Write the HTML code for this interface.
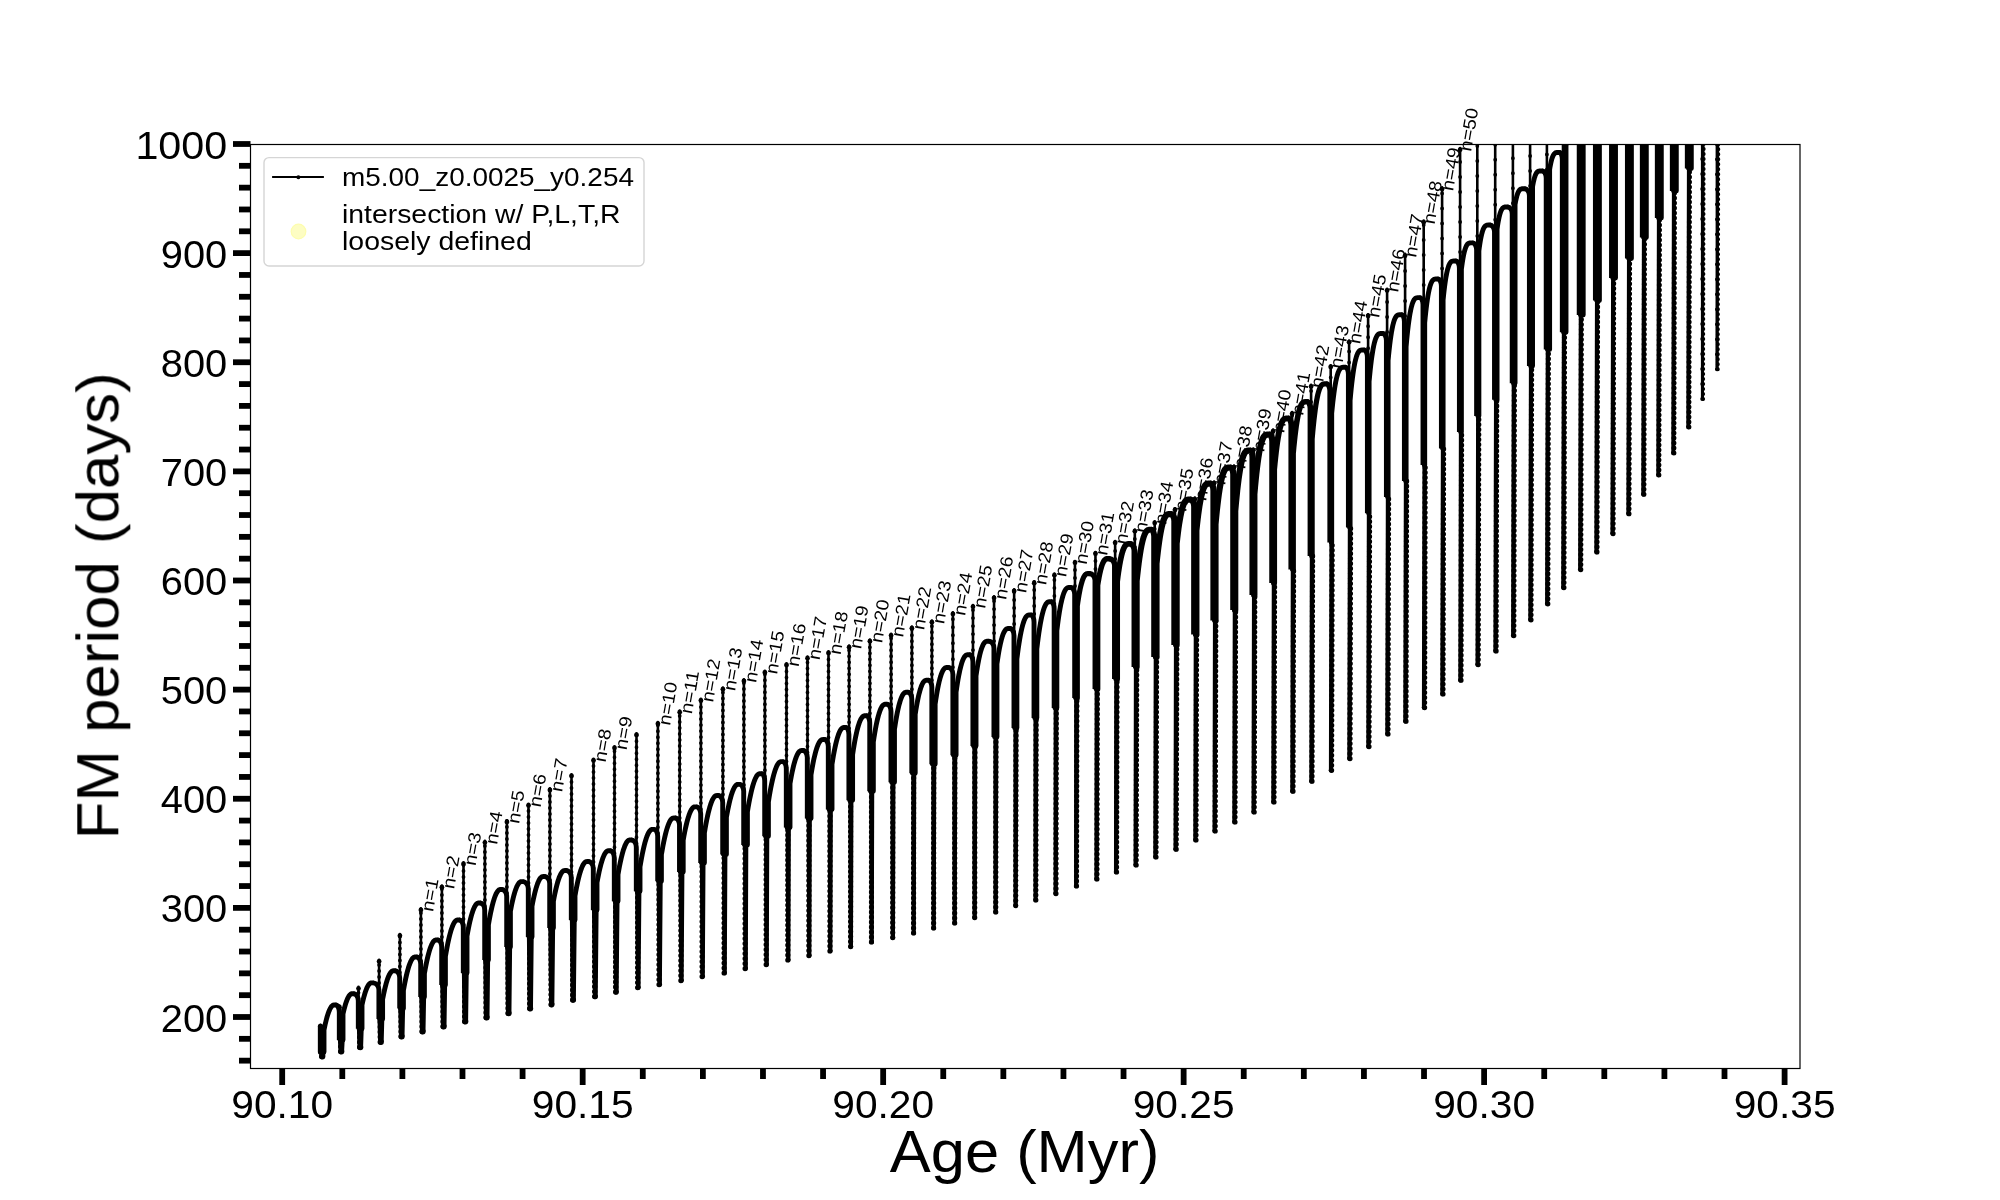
<!DOCTYPE html>
<html><head><meta charset="utf-8"><title>FM period vs Age</title>
<style>html,body{margin:0;padding:0;background:#fff;width:2000px;height:1200px;overflow:hidden}svg{display:block}.gs{filter:grayscale(1)}</style>
</head><body>
<svg width="2000" height="1200" viewBox="0 0 2000 1200">
<defs><clipPath id="c"><rect x="250.5" y="144.5" width="1549.5" height="924.0"/></clipPath></defs>
<rect width="2000" height="1200" fill="#fff"/>
<g clip-path="url(#c)" fill="none" stroke="#000" stroke-linecap="round" stroke-linejoin="round">
<path d="M320.5 1052V1024.8M339.5 1040V1005.5M358.5 1028.75V986.9M379.1 1019V959.7M399.9 1008.5V934M420.9 997V908.2M441.9 985V885.5M463.5 973V862.2M484.9 960V840.9M506.9 947V820.2M528.5 937V803.7M549.9 928V788.3M571.5 920V774.2M593.5 910V758.7M614.5 901.25V746.3M636.5 891.25V733.2M657.9 881.25V722M679.7 871.9V710.5M700.9 863.1V698.7M722.9 854.4V687.5M743.9 845V679.25M764.9 836.25V670.7M786.5 827.5V663.2M807.5 818.45V656.5M828.5 809.41V651.2M849.1 800.36V645.5M869.9 791.32V639.5M891.1 782.27V633.7M911.9 773.23V626.5M931.9 764.18V620.5M952.9 755.14V612.2M972.98 746.09V605M994.06 737.05V596.2M1014.14 728V589.3M1034.22 718V581.5M1054.4 708V573.5M1074.98 698V561M1095.46 689V552M1115.14 679V541M1134.82 667V529.5M1154.7 657V521.25M1174.98 645V508.2M1194.86 634.5V497.5M1214.14 620.5V481.5M1234.02 610V465.5M1253.3 595V448.5M1273.1 583V429.5M1292.1 569.5V412M1311.1 556V384.75M1330.7 542.5V365.25M1349.1 527.5V340.5M1368.1 513.25V314.25M1387.1 497V288.75M1405.1 481V253.9M1423.7 465V220.6M1442.1 448.5V187.4M1460.1 432V148M1477.3 416V100.5M1495.2 399.75V100.5M1512.9 383.25V100.5M1530.1 366V100.5M1546.9 349.5V100.5M1563 332.25V100.5M1579.9 315V100.5M1596.1 300.5V100.5M1612.2 278V100.5M1628.1 258.5V100.5M1643 237.5V100.5M1658 218V100.5M1673 191V100.5M1688 168.5V100.5M1702.2 398.9V100.5M1716.9 369.3V100.5" stroke-width="2.6"/>
<path d="M318.9 1052L325.7 1052L325.1 1056.6L319.5 1056.6ZM337.9 1040L344.7 1040L344.1 1051.6L338.5 1051.6ZM356.9 1028.75L363.7 1028.75L363.1 1047.2L357.5 1047.2ZM377.5 1019L384.3 1019L383.7 1042L378.1 1042ZM398.3 1008.5L405.1 1008.5L404.5 1036.6L398.9 1036.6ZM419.3 997L426.1 997L425.5 1031.6L419.9 1031.6ZM440.3 985L447.1 985L446.5 1026.6L440.9 1026.6ZM461.9 973L468.7 973L468.1 1021.6L462.5 1021.6ZM483.3 960L490.1 960L489.5 1017.6L483.9 1017.6ZM505.3 947L512.1 947L511.44 1013.2L505.96 1013.2ZM526.9 937L533.7 937L532.98 1008.6L527.62 1008.6ZM548.3 928L555.1 928L554.32 1004.6L549.07 1004.6ZM569.9 920L576.7 920L575.87 1000L570.73 1000ZM592 910L598.6 910L597.75 996.6L592.85 996.6ZM613.1 901.25L619.5 901.25L618.65 992L613.95 992ZM635.2 891.25L641.4 891.25L640.57 987.6L636.03 987.6ZM656.7 881.25L662.7 881.25L661.9 984.6L657.5 984.6ZM678.6 871.9L684.4 871.9L683.65 980.6L679.35 980.6ZM699.9 863.1L705.5 863.1L704.82 976.6L700.58 976.6ZM722 854.4L727.4 854.4L726.8 973L722.6 973ZM743.1 845L748.3 845L747.8 968.6L743.6 968.6ZM764.11 836.25L769.28 836.25L768.8 964.6L764.6 964.6ZM785.73 827.5L790.87 827.5L790.4 960L786.2 960ZM806.75 818.45L811.85 818.45L811.4 955.6L807.2 955.6ZM827.76 809.41L832.84 809.41L832.4 951L828.2 951ZM848.38 800.36L853.42 800.36L853 946.6L848.8 946.6ZM869.21 791.32L874.23 791.32L873.8 942L869.6 942ZM890.44 782.27L895.43 782.27L894.99 937.6L890.79 937.6ZM911.28 773.23L916.24 773.23L915.79 933L911.59 933ZM931.31 764.18L936.25 764.18L935.78 928L931.58 928ZM952.35 755.14L957.25 755.14L956.77 923L952.57 923ZM972.38 746.09L977.25 746.09L976.75 917.6L972.55 917.6ZM993.42 737.05L998.26 737.05L997.73 912L993.53 912ZM1013.46 728L1018.26 728L1017.71 905.6L1013.51 905.6ZM1033.49 718L1038.27 718L1037.69 900L1033.49 900ZM1053.62 708L1058.38 708L1057.77 893.6L1053.57 893.6ZM1074.16 698L1078.88 698L1078.24 886L1074.04 886ZM1094.6 689L1099.29 689L1098.61 879L1094.41 879ZM1114.23 679L1118.89 679L1118.17 872L1113.97 872ZM1133.86 667L1138.49 667L1137.74 865L1133.54 865ZM1153.7 657L1158.3 657L1157.5 857L1153.3 857ZM1173.91 645L1178.49 645L1177.7 849.2L1173.5 849.2ZM1193.72 634.5L1198.28 634.5L1197.5 840L1193.3 840ZM1212.93 620.5L1217.47 620.5L1216.7 831L1212.5 831ZM1232.74 610L1237.26 610L1236.5 822L1232.3 822ZM1251.95 595L1256.45 595L1255.7 812L1251.5 812ZM1271.76 583L1276.24 583L1275.5 802L1271.3 802ZM1290.77 569.5L1295.23 569.5L1294.5 791.2L1290.3 791.2ZM1309.78 556L1314.22 556L1313.5 781.2L1309.3 781.2ZM1329.39 542.5L1333.81 542.5L1333.1 770.3L1328.9 770.3ZM1347.8 527.5L1352.2 527.5L1351.5 758.6L1347.3 758.6ZM1366.81 513.25L1371.19 513.25L1370.5 746.6L1366.3 746.6ZM1385.82 497L1390.18 497L1389.5 734L1385.3 734ZM1403.83 481L1408.17 481L1407.5 721.2L1403.3 721.2ZM1422.44 465L1426.76 465L1426.1 707.6L1421.9 707.6ZM1440.85 448.5L1445.15 448.5L1444.5 694L1440.3 694ZM1458.86 432L1463.14 432L1462.5 680.2L1458.3 680.2ZM1476.07 416L1480.33 416L1479.7 664.6L1475.5 664.6ZM1493.98 399.75L1498.22 399.75L1497.6 650.9L1493.4 650.9ZM1511.69 383.25L1515.91 383.25L1515.3 635.6L1511.1 635.6ZM1528.9 366L1533.1 366L1532.5 619.8L1528.3 619.8ZM1545.71 349.5L1549.89 349.5L1549.29 603.8L1545.11 603.8ZM1561.82 332.25L1565.98 332.25L1565.38 587.6L1561.22 587.6ZM1578.73 315L1582.87 315L1582.27 569.6L1578.13 569.6ZM1594.94 300.5L1599.06 300.5L1598.46 551.9L1594.34 551.9ZM1611.05 278L1615.15 278L1614.55 533.6L1610.45 533.6ZM1626.96 258.5L1631.04 258.5L1630.44 513.8L1626.36 513.8ZM1641.87 237.5L1645.93 237.5L1645.33 494.3L1641.27 494.3ZM1656.88 218L1660.92 218L1660.32 475.1L1656.28 475.1ZM1671.89 191L1675.91 191L1675.31 452.9L1671.29 452.9ZM1686.9 168.5L1690.9 168.5L1690.3 427.1L1686.3 427.1ZM1701.6 140L1704.6 140L1704 398.9L1701 398.9ZM1716.3 110L1719.3 110L1718.7 369.3L1715.7 369.3Z" fill="#000" stroke="none"/>
<path d="M321.7 1056.6L321.7 1052" stroke-width="5.4" stroke-dasharray="0 5"/>
<path d="M340.7 1051.6L340.7 1040" stroke-width="5.4" stroke-dasharray="0 5"/>
<path d="M359.7 1047.2L359.7 1028.75" stroke-width="5.4" stroke-dasharray="0 5"/>
<path d="M380.3 1042L380.3 1019" stroke-width="5.4" stroke-dasharray="0 5"/>
<path d="M401.1 1036.6L401.1 1008.5" stroke-width="5.4" stroke-dasharray="0 5"/>
<path d="M422.1 1031.6L422.1 997" stroke-width="5.4" stroke-dasharray="0 5"/>
<path d="M443.1 1026.6L443.1 985" stroke-width="5.4" stroke-dasharray="0 5"/>
<path d="M464.7 1021.6L464.7 973" stroke-width="5.4" stroke-dasharray="0 5"/>
<path d="M486.1 1017.6L486.1 960" stroke-width="5.4" stroke-dasharray="0 5"/>
<path d="M508.1 1013.2L508.1 947" stroke-width="5.4" stroke-dasharray="0 5"/>
<path d="M529.7 1008.6L529.7 937" stroke-width="5.4" stroke-dasharray="0 5"/>
<path d="M551.1 1004.6L551.1 928" stroke-width="5.4" stroke-dasharray="0 5"/>
<path d="M572.7 1000L572.7 920" stroke-width="5.4" stroke-dasharray="0 5"/>
<path d="M594.7 996.6L594.7 910" stroke-width="5.4" stroke-dasharray="0 5"/>
<path d="M615.7 992L615.7 901.25" stroke-width="5.4" stroke-dasharray="0 5"/>
<path d="M637.7 987.6L637.7 891.25" stroke-width="5.4" stroke-dasharray="0 5"/>
<path d="M659.1 984.6L659.1 881.25" stroke-width="5.4" stroke-dasharray="0 5"/>
<path d="M680.9 980.6L680.9 871.9" stroke-width="5.3" stroke-dasharray="0 5"/>
<path d="M702.1 976.6L702.1 863.1" stroke-width="5.2" stroke-dasharray="0 5"/>
<path d="M724.1 973L724.1 854.4" stroke-width="5.2" stroke-dasharray="0 5"/>
<path d="M745.1 968.6L745.1 845" stroke-width="5.2" stroke-dasharray="0 5"/>
<path d="M766.16 964.6L766.16 836.25" stroke-width="5.2" stroke-dasharray="0 5"/>
<path d="M787.82 960L787.82 827.5" stroke-width="5.2" stroke-dasharray="0 5"/>
<path d="M808.88 955.6L808.88 818.45" stroke-width="5.2" stroke-dasharray="0 5"/>
<path d="M829.94 951L829.94 809.41" stroke-width="5.2" stroke-dasharray="0 5"/>
<path d="M850.6 946.6L850.6 800.36" stroke-width="5.2" stroke-dasharray="0 5"/>
<path d="M871.46 942L871.48 791.32" stroke-width="5.2" stroke-dasharray="0 5"/>
<path d="M892.71 937.6L892.76 782.27" stroke-width="5.2" stroke-dasharray="0 5"/>
<path d="M913.57 933L913.64 773.23" stroke-width="5.2" stroke-dasharray="0 5"/>
<path d="M933.62 928L933.72 764.18" stroke-width="5.2" stroke-dasharray="0 5"/>
<path d="M954.67 923L954.8 755.14" stroke-width="5.2" stroke-dasharray="0 5"/>
<path d="M974.71 917.6L974.88 746.09" stroke-width="5.2" stroke-dasharray="0 5"/>
<path d="M995.75 912L995.96 737.05" stroke-width="5.2" stroke-dasharray="0 5"/>
<path d="M1015.79 905.6L1016.04 728" stroke-width="5.2" stroke-dasharray="0 5"/>
<path d="M1035.83 900L1036.12 718" stroke-width="5.2" stroke-dasharray="0 5"/>
<path d="M1055.97 893.6L1056.3 708" stroke-width="5.2" stroke-dasharray="0 5"/>
<path d="M1076.5 886L1076.88 698" stroke-width="5.2" stroke-dasharray="0 5"/>
<path d="M1096.93 879L1097.36 689" stroke-width="5.2" stroke-dasharray="0 5"/>
<path d="M1116.55 872L1117.04 679" stroke-width="5.2" stroke-dasharray="0 5"/>
<path d="M1136.18 865L1136.72 667" stroke-width="5.2" stroke-dasharray="0 5"/>
<path d="M1156 857L1156.6 657" stroke-width="5.2" stroke-dasharray="0 5"/>
<path d="M1176.2 849.2L1176.8 645" stroke-width="5.2" stroke-dasharray="0 5"/>
<path d="M1196 840L1196.6 634.5" stroke-width="5.2" stroke-dasharray="0 5"/>
<path d="M1215.2 831L1215.8 620.5" stroke-width="5.2" stroke-dasharray="0 5"/>
<path d="M1235 822L1235.6 610" stroke-width="5.2" stroke-dasharray="0 5"/>
<path d="M1254.2 812L1254.8 595" stroke-width="5.2" stroke-dasharray="0 5"/>
<path d="M1274 802L1274.6 583" stroke-width="5.2" stroke-dasharray="0 5"/>
<path d="M1293 791.2L1293.6 569.5" stroke-width="5.2" stroke-dasharray="0 5"/>
<path d="M1312 781.2L1312.6 556" stroke-width="5.2" stroke-dasharray="0 5"/>
<path d="M1331.6 770.3L1332.2 542.5" stroke-width="5.2" stroke-dasharray="0 5"/>
<path d="M1350 758.6L1350.6 527.5" stroke-width="5.2" stroke-dasharray="0 5"/>
<path d="M1369 746.6L1369.6 513.25" stroke-width="5.2" stroke-dasharray="0 5"/>
<path d="M1388 734L1388.6 497" stroke-width="5.2" stroke-dasharray="0 5"/>
<path d="M1406 721.2L1406.6 481" stroke-width="5.2" stroke-dasharray="0 5"/>
<path d="M1424.6 707.6L1425.2 465" stroke-width="5.2" stroke-dasharray="0 5"/>
<path d="M1443 694L1443.6 448.5" stroke-width="5.2" stroke-dasharray="0 5"/>
<path d="M1461 680.2L1461.6 432" stroke-width="5.2" stroke-dasharray="0 5"/>
<path d="M1478.2 664.6L1478.8 416" stroke-width="5.2" stroke-dasharray="0 5"/>
<path d="M1496.1 650.9L1496.7 399.75" stroke-width="5.2" stroke-dasharray="0 5"/>
<path d="M1513.8 635.6L1514.4 383.25" stroke-width="5.2" stroke-dasharray="0 5"/>
<path d="M1531 619.8L1531.6 366" stroke-width="5.2" stroke-dasharray="0 5"/>
<path d="M1547.8 603.8L1548.4 349.5" stroke-width="5.2" stroke-dasharray="0 5"/>
<path d="M1563.9 587.6L1564.5 332.25" stroke-width="5.2" stroke-dasharray="0 5"/>
<path d="M1580.8 569.6L1581.4 315" stroke-width="5.1" stroke-dasharray="0 5"/>
<path d="M1597 551.9L1597.6 300.5" stroke-width="5.1" stroke-dasharray="0 5"/>
<path d="M1613.1 533.6L1613.7 278" stroke-width="5.1" stroke-dasharray="0 5"/>
<path d="M1629 513.8L1629.6 258.5" stroke-width="5.1" stroke-dasharray="0 5"/>
<path d="M1643.9 494.3L1644.5 237.5" stroke-width="5.1" stroke-dasharray="0 5"/>
<path d="M1658.9 475.1L1659.5 218" stroke-width="5.0" stroke-dasharray="0 5"/>
<path d="M1673.9 452.9L1674.5 191" stroke-width="5.0" stroke-dasharray="0 5"/>
<path d="M1688.9 427.1L1689.5 168.5" stroke-width="5.0" stroke-dasharray="0 5"/>
<path d="M1703.1 398.9L1703.7 140" stroke-width="4.0" stroke-dasharray="0 5"/>
<path d="M1717.8 369.3L1718.4 110" stroke-width="4.0" stroke-dasharray="0 5"/>
<path d="M320.5 1052V1024.8M339.5 1040V1005.5M358.5 1028.75V986.9M379.1 1019V959.7M399.9 1008.5V934M420.9 997V908.2M441.9 985V885.5M463.5 973V862.2M484.9 960V840.9M506.9 947V820.2M528.5 937V803.7M549.9 928V788.3M571.5 920V774.2M593.5 910V758.7M614.5 901.25V746.3M636.5 891.25V733.2M657.9 881.25V722M679.7 871.9V710.5M700.9 863.1V698.7M722.9 854.4V687.5M743.9 845V679.25M764.9 836.25V670.7M786.5 827.5V663.2M807.5 818.45V656.5M828.5 809.41V651.2M849.1 800.36V645.5M869.9 791.32V639.5M891.1 782.27V633.7M911.9 773.23V626.5M931.9 764.18V620.5" stroke-width="3.8" stroke-dasharray="0 6"/>
<path d="M952.9 755.14V612.2M972.98 746.09V605M994.06 737.05V596.2M1014.14 728V589.3M1034.22 718V581.5M1054.4 708V573.5M1074.98 698V561M1095.46 689V552M1115.14 679V541M1134.82 667V529.5M1154.7 657V521.25M1174.98 645V508.2" stroke-width="3.8" stroke-dasharray="0 8"/>
<path d="M1194.86 634.5V497.5M1214.14 620.5V481.5M1234.02 610V465.5M1253.3 595V448.5M1273.1 583V429.5M1292.1 569.5V412M1311.1 556V384.75M1330.7 542.5V365.25M1349.1 527.5V340.5M1368.1 513.25V314.25" stroke-width="3.8" stroke-dasharray="0 11"/>
<path d="M1387.1 497V288.75M1405.1 481V253.9M1423.7 465V220.6M1442.1 448.5V187.4M1460.1 432V148M1477.3 416V100.5M1495.2 399.75V100.5M1512.9 383.25V100.5M1530.1 366V100.5M1546.9 349.5V100.5M1563 332.25V100.5M1579.9 315V100.5M1596.1 300.5V100.5M1612.2 278V100.5M1628.1 258.5V100.5M1643 237.5V100.5M1658 218V100.5M1673 191V100.5M1688 168.5V100.5M1702.2 398.9V100.5M1716.9 369.3V100.5" stroke-width="3.8" stroke-dasharray="0 15"/>
<path d="M320.5 1026.3V1052" stroke-width="5.3"/>
<path d="M324 1052L324 1029.95L324.62 1026.92L325.25 1024.09L325.88 1021.45L326.5 1019.01L327.12 1016.77L327.75 1014.72L328.38 1012.86L329 1011.2L329.62 1009.74L330.25 1008.47L330.88 1007.39L331.5 1006.51L332.12 1005.83L332.75 1005.34L333.38 1005.05L334 1004.95L335.5 1004.95" stroke-width="4.9"/>
<path d="M335.5 1004.95C337.6 1004.95 339.3 1008.08 339.3 1011.95L339.3 1040" stroke-width="4.9" stroke-linecap="butt"/>
<path d="M343 1040L343 1013.95L343.56 1011.5L344.12 1009.2L344.69 1007.07L345.25 1005.09L345.81 1003.27L346.38 1001.61L346.94 1000.11L347.5 998.76L348.06 997.58L348.62 996.55L349.19 995.68L349.75 994.97L350.31 994.41L350.88 994.02L351.44 993.78L352 993.7L353.5 993.7" stroke-width="4.9"/>
<path d="M353.5 993.7C356.15 993.7 358.3 996.83 358.3 1000.7L358.3 1028.75" stroke-width="4.9" stroke-linecap="butt"/>
<path d="M362 1028.75L362 1004.94L362.59 1002.27L363.18 999.76L363.76 997.43L364.35 995.28L364.94 993.29L365.52 991.48L366.11 989.84L366.7 988.37L367.29 987.08L367.88 985.96L368.46 985.01L369.05 984.23L369.64 983.63L370.22 983.2L370.81 982.94L371.4 982.85L372.9 982.85" stroke-width="4.9"/>
<path d="M372.9 982.85C376.21 982.85 378.9 985.98 378.9 989.85L378.9 1019" stroke-width="4.9" stroke-linecap="butt"/>
<path d="M382.6 1019L382.6 999.37L383.27 995.91L383.94 992.66L384.61 989.65L385.28 986.85L385.94 984.28L386.61 981.93L387.28 979.81L387.95 977.91L388.62 976.23L389.29 974.78L389.96 973.55L390.62 972.54L391.29 971.76L391.96 971.2L392.63 970.86L393.3 970.75L394.8 970.75" stroke-width="4.9"/>
<path d="M394.8 970.75C397.51 970.75 399.7 973.88 399.7 977.75L399.7 1008.5" stroke-width="4.9" stroke-linecap="butt"/>
<path d="M403.4 1008.5L403.4 990.59L404.12 986.52L404.85 982.71L405.57 979.16L406.3 975.87L407.02 972.85L407.75 970.09L408.47 967.59L409.2 965.36L409.93 963.39L410.65 961.68L411.38 960.24L412.1 959.05L412.82 958.13L413.55 957.48L414.27 957.08L415 956.95L416.5 956.95" stroke-width="4.9"/>
<path d="M416.5 956.95C418.82 956.95 420.7 960.08 420.7 963.95L420.7 997" stroke-width="4.9" stroke-linecap="butt"/>
<path d="M424.4 997L424.4 973.59L425.12 969.52L425.85 965.71L426.57 962.16L427.3 958.87L428.02 955.85L428.75 953.09L429.47 950.59L430.2 948.36L430.93 946.39L431.65 944.68L432.38 943.24L433.1 942.05L433.82 941.13L434.55 940.48L435.27 940.08L436 939.95L437.5 939.95" stroke-width="4.9"/>
<path d="M437.5 939.95C439.82 939.95 441.7 943.08 441.7 946.95L441.7 985" stroke-width="4.9" stroke-linecap="butt"/>
<path d="M445.4 985L445.4 956.55L446.16 952.12L446.91 947.97L447.67 944.11L448.42 940.54L449.18 937.25L449.94 934.25L450.69 931.53L451.45 929.1L452.21 926.96L452.96 925.1L453.72 923.52L454.47 922.24L455.23 921.24L455.99 920.52L456.74 920.09L457.5 919.95L459 919.95" stroke-width="4.9"/>
<path d="M459 919.95C461.37 919.95 463.3 923.08 463.3 926.95L463.3 973" stroke-width="4.9" stroke-linecap="butt"/>
<path d="M467 973L467 936.01L467.72 932.01L468.44 928.26L469.16 924.78L469.88 921.55L470.59 918.58L471.31 915.87L472.03 913.41L472.75 911.22L473.47 909.28L474.19 907.6L474.91 906.18L475.62 905.02L476.34 904.11L477.06 903.47L477.78 903.08L478.5 902.95L480 902.95" stroke-width="4.9"/>
<path d="M480 902.95C482.6 902.95 484.7 906.08 484.7 909.95L484.7 960" stroke-width="4.9" stroke-linecap="butt"/>
<path d="M488.4 960L488.4 924.85L489.14 920.57L489.89 916.56L490.63 912.82L491.38 909.36L492.12 906.18L492.86 903.28L493.61 900.65L494.35 898.3L495.09 896.23L495.84 894.43L496.58 892.91L497.32 891.66L498.07 890.69L498.81 890L499.56 889.59L500.3 889.45L501.8 889.45" stroke-width="4.9"/>
<path d="M501.8 889.45C504.51 889.45 506.7 892.58 506.7 896.45L506.7 947" stroke-width="4.9" stroke-linecap="butt"/>
<path d="M510.4 947L510.4 911.35L511.08 907.76L511.76 904.39L512.44 901.26L513.12 898.36L513.81 895.69L514.49 893.25L515.17 891.05L515.85 889.08L516.53 887.34L517.21 885.83L517.89 884.55L518.57 883.51L519.26 882.69L519.94 882.11L520.62 881.77L521.3 881.65L522.8 881.65" stroke-width="4.9"/>
<path d="M522.8 881.65C525.84 881.65 528.3 884.78 528.3 888.65L528.3 937" stroke-width="4.9" stroke-linecap="butt"/>
<path d="M532 937L532 906.25L532.68 902.66L533.36 899.29L534.04 896.16L534.73 893.26L535.41 890.59L536.09 888.15L536.77 885.95L537.45 883.98L538.13 882.24L538.81 880.73L539.49 879.45L540.17 878.41L540.86 877.59L541.54 877.01L542.22 876.67L542.9 876.55L544.4 876.55" stroke-width="4.9"/>
<path d="M544.4 876.55C547.33 876.55 549.7 879.68 549.7 883.55L549.7 928" stroke-width="4.9" stroke-linecap="butt"/>
<path d="M553.4 928L553.4 901.35L554.09 897.62L554.79 894.13L555.48 890.88L556.17 887.88L556.87 885.11L557.56 882.58L558.26 880.3L558.95 878.25L559.64 876.45L560.34 874.88L561.03 873.56L561.73 872.48L562.42 871.63L563.11 871.03L563.81 870.67L564.5 870.55L566 870.55" stroke-width="4.9"/>
<path d="M566 870.55C568.93 870.55 571.3 873.68 571.3 877.55L571.3 920" stroke-width="4.9" stroke-linecap="butt"/>
<path d="M575 920L575 895.77L575.73 891.63L576.46 887.75L577.19 884.14L577.92 880.8L578.66 877.73L579.39 874.92L580.12 872.38L580.85 870.11L581.58 868.1L582.31 866.36L583.04 864.89L583.77 863.69L584.51 862.75L585.24 862.08L585.97 861.68L586.7 861.55L588.2 861.55" stroke-width="4.9"/>
<path d="M588.2 861.55C591.02 861.55 593.3 864.68 593.3 868.55L593.3 910" stroke-width="4.9" stroke-linecap="butt"/>
<path d="M597 910L597 882.67L597.71 878.81L598.41 875.19L599.12 871.82L599.82 868.71L600.53 865.84L601.24 863.22L601.94 860.85L602.65 858.73L603.36 856.86L604.06 855.24L604.77 853.87L605.47 852.75L606.18 851.87L606.89 851.25L607.59 850.87L608.3 850.75L609.8 850.75" stroke-width="4.9"/>
<path d="M609.8 850.75C612.29 850.75 614.3 853.88 614.3 857.75L614.3 901.25" stroke-width="4.9" stroke-linecap="butt"/>
<path d="M618 901.25L618 874.47L618.73 870.29L619.47 866.38L620.2 862.74L620.94 859.37L621.67 856.26L622.41 853.43L623.14 850.87L623.88 848.58L624.61 846.56L625.34 844.8L626.08 843.32L626.81 842.11L627.55 841.16L628.28 840.49L629.02 840.08L629.75 839.95L631.25 839.95" stroke-width="4.9"/>
<path d="M631.25 839.95C634.04 839.95 636.3 843.08 636.3 846.95L636.3 891.25" stroke-width="4.9" stroke-linecap="butt"/>
<path d="M640 891.25L640 866.87L640.77 862.32L641.53 858.07L642.3 854.12L643.06 850.45L643.83 847.08L644.59 844L645.36 841.22L646.12 838.73L646.89 836.53L647.66 834.63L648.42 833.01L649.19 831.69L649.95 830.67L650.72 829.94L651.48 829.5L652.25 829.35L653.75 829.35" stroke-width="4.9"/>
<path d="M653.75 829.35C655.93 829.35 657.7 832.48 657.7 836.35L657.7 881.25" stroke-width="4.9" stroke-linecap="butt"/>
<path d="M661.4 881.25L661.4 854.65L662.16 850.22L662.91 846.07L663.67 842.21L664.42 838.64L665.18 835.35L665.94 832.35L666.69 829.63L667.45 827.2L668.21 825.06L668.96 823.2L669.72 821.62L670.48 820.34L671.23 819.34L671.99 818.62L672.74 818.19L673.5 818.05L675 818.05" stroke-width="4.9"/>
<path d="M675 818.05C677.49 818.05 679.5 821.18 679.5 825.05L679.5 871.9" stroke-width="4.9" stroke-linecap="butt"/>
<path d="M683.2 871.9L683.2 840.2L683.92 836.16L684.64 832.38L685.37 828.87L686.09 825.61L686.81 822.61L687.53 819.88L688.25 817.4L688.98 815.19L689.7 813.23L690.42 811.54L691.14 810.11L691.86 808.93L692.58 808.02L693.31 807.37L694.03 806.98L694.75 806.85L696.25 806.85" stroke-width="4.9"/>
<path d="M696.25 806.85C698.71 806.85 700.7 809.98 700.7 813.85L700.7 863.1" stroke-width="4.9" stroke-linecap="butt"/>
<path d="M704.4 863.1L704.4 832.76L705.16 828.25L705.92 824.04L706.69 820.11L707.45 816.48L708.21 813.14L708.98 810.09L709.74 807.32L710.5 804.85L711.26 802.67L712.02 800.78L712.79 799.18L713.55 797.88L714.31 796.86L715.08 796.13L715.84 795.7L716.6 795.55L718.1 795.55" stroke-width="4.9"/>
<path d="M718.1 795.55C720.64 795.55 722.7 798.68 722.7 802.55L722.7 854.4" stroke-width="4.9" stroke-linecap="butt"/>
<path d="M726.4 854.4L726.4 817.41L727.12 813.41L727.84 809.66L728.56 806.18L729.27 802.95L729.99 799.98L730.71 797.27L731.43 794.81L732.15 792.62L732.87 790.68L733.59 789L734.31 787.58L735.02 786.42L735.74 785.51L736.46 784.87L737.18 784.48L737.9 784.35L739.4 784.35" stroke-width="4.9"/>
<path d="M739.4 784.35C741.77 784.35 743.7 787.48 743.7 791.35L743.7 845" stroke-width="4.9" stroke-linecap="butt"/>
<path d="M747.4 845L747.4 811.83L748.17 807.21L748.94 802.89L749.72 798.87L750.49 795.15L751.26 791.72L752.03 788.59L752.8 785.76L753.58 783.23L754.35 781L755.12 779.06L755.89 777.42L756.66 776.08L757.43 775.04L758.21 774.3L758.98 773.85L759.75 773.7L761.25 773.7" stroke-width="4.9"/>
<path d="M761.25 773.7C763.16 773.7 764.7 776.83 764.7 780.7L764.7 836.25" stroke-width="4.9" stroke-linecap="butt"/>
<path d="M768.4 836.25L768.4 801.79L769.18 796.93L769.96 792.38L770.74 788.15L771.52 784.23L772.3 780.62L773.08 777.33L773.86 774.35L774.65 771.69L775.43 769.33L776.22 767.3L777.01 765.57L777.8 764.16L778.59 763.06L779.38 762.28L780.19 761.81L781 761.65L782.5 761.65" stroke-width="4.9"/>
<path d="M782.5 761.65C784.6 761.65 786.3 764.78 786.3 768.65L786.3 827.5" stroke-width="4.9" stroke-linecap="butt"/>
<path d="M790 827.5L790 783.62L790.7 779.62L791.39 775.87L792.09 772.38L792.79 769.15L793.49 766.18L794.19 763.47L794.9 761.01L795.6 758.82L796.31 756.88L797.02 755.2L797.73 753.78L798.45 752.62L799.17 751.71L799.9 751.07L800.64 750.68L801.4 750.55L802.9 750.55" stroke-width="4.9"/>
<path d="M802.9 750.55C805.33 750.55 807.3 753.68 807.3 757.55L807.3 818.45" stroke-width="4.9" stroke-linecap="butt"/>
<path d="M811 818.45L811 774.76L811.71 770.5L812.41 766.51L813.12 762.8L813.83 759.36L814.55 756.19L815.26 753.3L815.98 750.69L816.7 748.35L817.43 746.29L818.15 744.5L818.89 742.99L819.62 741.75L820.37 740.79L821.12 740.1L821.89 739.69L822.7 739.55L824.2 739.55" stroke-width="4.9"/>
<path d="M824.2 739.55C826.46 739.55 828.3 742.68 828.3 746.55L828.3 809.41" stroke-width="4.9" stroke-linecap="butt"/>
<path d="M832 809.41L832 764.29L832.71 759.83L833.42 755.65L834.14 751.77L834.85 748.17L835.57 744.86L836.29 741.84L837.02 739.11L837.75 736.66L838.48 734.5L839.22 732.63L839.97 731.05L840.72 729.75L841.48 728.75L842.26 728.03L843.05 727.59L843.9 727.45L845.4 727.45" stroke-width="4.9"/>
<path d="M845.4 727.45C847.33 727.45 848.9 730.58 848.9 734.45L848.9 800.36" stroke-width="4.9" stroke-linecap="butt"/>
<path d="M852.6 800.36L852.6 754.63L853.32 749.93L854.03 745.52L854.76 741.42L855.48 737.62L856.21 734.13L856.94 730.94L857.68 728.05L858.42 725.47L859.17 723.19L859.92 721.22L860.68 719.55L861.45 718.18L862.24 717.12L863.03 716.36L863.86 715.9L864.75 715.75L866.25 715.75" stroke-width="4.9"/>
<path d="M866.25 715.75C868.17 715.75 869.74 718.88 869.74 722.75L869.74 791.32" stroke-width="4.9" stroke-linecap="butt"/>
<path d="M873.33 791.32L873.33 741.88L874.03 737.31L874.73 733.05L875.43 729.07L876.13 725.39L876.84 722.01L877.55 718.92L878.27 716.12L879 713.62L879.73 711.41L880.47 709.5L881.21 707.88L881.97 706.55L882.74 705.52L883.53 704.79L884.35 704.35L885.25 704.2L886.75 704.2" stroke-width="4.9"/>
<path d="M886.75 704.2C889.08 704.2 890.97 707.33 890.97 711.2L890.97 782.27" stroke-width="4.9" stroke-linecap="butt"/>
<path d="M894.47 782.27L894.47 729.32L895.15 724.83L895.83 720.62L896.52 716.71L897.21 713.08L897.9 709.75L898.6 706.7L899.31 703.95L900.02 701.48L900.74 699.31L901.47 697.42L902.21 695.83L902.96 694.52L903.72 693.51L904.51 692.78L905.33 692.35L906.25 692.2L907.75 692.2" stroke-width="4.9"/>
<path d="M907.75 692.2C909.99 692.2 911.8 695.33 911.8 699.2L911.8 773.23" stroke-width="4.9" stroke-linecap="butt"/>
<path d="M915.2 773.23L915.2 714.37L915.85 710.23L916.5 706.36L917.15 702.76L917.8 699.42L918.47 696.35L919.13 693.55L919.81 691.01L920.49 688.74L921.17 686.74L921.87 685.01L922.58 683.54L923.3 682.34L924.03 681.4L924.79 680.73L925.59 680.33L926.5 680.2L928 680.2" stroke-width="4.9"/>
<path d="M928 680.2C930.12 680.2 931.84 683.33 931.84 687.2L931.84 764.18" stroke-width="4.9" stroke-linecap="butt"/>
<path d="M935.14 764.18L935.14 704.09L935.79 699.66L936.45 695.51L937.12 691.64L937.79 688.06L938.46 684.77L939.14 681.76L939.83 679.04L940.52 676.61L941.23 674.46L941.94 672.6L942.67 671.03L943.41 669.74L944.17 668.74L944.96 668.02L945.79 667.59L946.75 667.45L948.25 667.45" stroke-width="4.9"/>
<path d="M948.25 667.45C950.8 667.45 952.88 670.58 952.88 674.45L952.88 755.14" stroke-width="4.9" stroke-linecap="butt"/>
<path d="M956.07 755.14L956.07 692.15L956.73 687.62L957.38 683.38L958.04 679.43L958.71 675.77L959.38 672.4L960.06 669.33L960.75 666.55L961.45 664.06L962.15 661.87L962.87 659.97L963.6 658.36L964.35 657.04L965.11 656.02L965.91 655.29L966.76 654.85L967.75 654.7L969.25 654.7" stroke-width="4.9"/>
<path d="M969.25 654.7C971.27 654.7 972.91 657.83 972.91 661.7L972.91 746.09" stroke-width="4.9" stroke-linecap="butt"/>
<path d="M976.01 746.09L976.01 675.88L976.63 671.68L977.25 667.75L977.89 664.09L978.52 660.71L979.16 657.59L979.81 654.75L980.47 652.17L981.14 649.87L981.82 647.84L982.5 646.08L983.21 644.59L983.93 643.37L984.67 642.42L985.44 641.74L986.27 641.34L987.25 641.2L988.75 641.2" stroke-width="4.9"/>
<path d="M988.75 641.2C991.62 641.2 993.94 644.33 993.94 648.2L993.94 737.05" stroke-width="4.9" stroke-linecap="butt"/>
<path d="M996.94 737.05L996.94 663.89L997.56 659.6L998.18 655.59L998.81 651.85L999.45 648.39L1000.09 645.2L1000.74 642.3L1001.4 639.66L1002.06 637.31L1002.74 635.23L1003.43 633.43L1004.14 631.91L1004.86 630.67L1005.61 629.7L1006.4 629L1007.24 628.59L1008.25 628.45L1009.75 628.45" stroke-width="4.9"/>
<path d="M1009.75 628.45C1012.09 628.45 1013.98 631.58 1013.98 635.45L1013.98 728" stroke-width="4.9" stroke-linecap="butt"/>
<path d="M1016.88 728L1016.88 659.03L1017.55 653.69L1018.22 648.7L1018.9 644.05L1019.59 639.74L1020.29 635.78L1020.99 632.17L1021.71 628.9L1022.44 625.97L1023.18 623.39L1023.93 621.15L1024.7 619.25L1025.5 617.7L1026.32 616.5L1027.18 615.64L1028.11 615.12L1029.25 614.95L1030.75 614.95" stroke-width="4.9"/>
<path d="M1030.75 614.95C1032.55 614.95 1034.02 618.08 1034.02 621.95L1034.02 718" stroke-width="4.9" stroke-linecap="butt"/>
<path d="M1036.82 718L1036.82 649.02L1037.49 643.3L1038.18 637.94L1038.87 632.96L1039.57 628.34L1040.28 624.09L1041 620.22L1041.73 616.71L1042.47 613.57L1043.22 610.8L1043.99 608.4L1044.79 606.37L1045.6 604.7L1046.45 603.41L1047.34 602.49L1048.3 601.93L1049.5 601.75L1051 601.75" stroke-width="4.9"/>
<path d="M1051 601.75C1052.74 601.75 1054.15 604.88 1054.15 608.75L1054.15 708" stroke-width="4.9" stroke-linecap="butt"/>
<path d="M1056.85 708L1056.85 630.62L1057.49 625.39L1058.14 620.5L1058.8 615.95L1059.46 611.73L1060.14 607.85L1060.82 604.31L1061.52 601.11L1062.22 598.24L1062.94 595.71L1063.68 593.52L1064.44 591.67L1065.22 590.15L1066.03 588.97L1066.89 588.12L1067.82 587.62L1069 587.45L1070.5 587.45" stroke-width="4.9"/>
<path d="M1070.5 587.45C1072.81 587.45 1074.68 590.58 1074.68 594.45L1074.68 698" stroke-width="4.9" stroke-linecap="butt"/>
<path d="M1077.29 698L1077.29 605.85L1077.85 601.94L1078.41 598.29L1078.99 594.89L1079.57 591.74L1080.16 588.84L1080.76 586.19L1081.37 583.8L1081.99 581.66L1082.62 579.77L1083.27 578.13L1083.94 576.74L1084.62 575.61L1085.34 574.72L1086.11 574.09L1086.94 573.72L1088 573.59L1089.5 573.59" stroke-width="5.18"/>
<path d="M1089.5 573.59C1092.6 573.59 1095.12 576.72 1095.12 580.59L1095.12 689" stroke-width="5.18" stroke-linecap="butt"/>
<path d="M1097.62 689L1097.62 585.42L1098.13 582.19L1098.65 579.17L1099.17 576.35L1099.71 573.75L1100.25 571.35L1100.79 569.16L1101.35 567.18L1101.92 565.4L1102.5 563.84L1103.1 562.48L1103.71 561.34L1104.35 560.4L1105.02 559.67L1105.72 559.15L1106.5 558.83L1107.5 558.73L1109 558.73" stroke-width="5.46"/>
<path d="M1109 558.73C1112.18 558.73 1114.76 561.86 1114.76 565.73L1114.76 679" stroke-width="5.46" stroke-linecap="butt"/>
<path d="M1117.15 679L1117.15 581.52L1117.74 576.97L1118.33 572.7L1118.92 568.73L1119.53 565.05L1120.14 561.67L1120.77 558.58L1121.41 555.78L1122.06 553.28L1122.72 551.08L1123.41 549.17L1124.11 547.55L1124.84 546.22L1125.61 545.19L1126.42 544.46L1127.32 544.02L1128.5 543.87L1130 543.87" stroke-width="5.74"/>
<path d="M1130 543.87C1132.42 543.87 1134.39 547 1134.39 550.87L1134.39 667" stroke-width="5.74" stroke-linecap="butt"/>
<path d="M1136.69 667L1136.69 581.06L1137.34 574.85L1138 569.04L1138.67 563.63L1139.35 558.62L1140.04 554.01L1140.74 549.8L1141.45 545.99L1142.18 542.59L1142.93 539.58L1143.7 536.97L1144.5 534.77L1145.32 532.97L1146.19 531.56L1147.11 530.56L1148.14 529.96L1149.5 529.76L1151 529.76" stroke-width="6.02"/>
<path d="M1151 529.76C1152.78 529.76 1154.23 532.89 1154.23 536.76L1154.23 657" stroke-width="6.02" stroke-linecap="butt"/>
<path d="M1156.43 657L1156.43 563.71L1157.06 557.71L1157.7 552.1L1158.35 546.87L1159.01 542.03L1159.68 537.58L1160.37 533.51L1161.06 529.83L1161.78 526.54L1162.51 523.64L1163.26 521.12L1164.04 518.99L1164.85 517.25L1165.7 515.89L1166.62 514.92L1167.63 514.34L1169 514.15L1170.5 514.15" stroke-width="6.3"/>
<path d="M1170.5 514.15C1172.69 514.15 1174.46 517.28 1174.46 521.15L1174.46 645" stroke-width="6.3" stroke-linecap="butt"/>
<path d="M1176.56 645L1176.56 543.63L1177.16 538.3L1177.76 533.32L1178.37 528.68L1178.99 524.39L1179.63 520.44L1180.27 516.83L1180.93 513.57L1181.6 510.64L1182.3 508.07L1183.01 505.83L1183.75 503.94L1184.52 502.4L1185.33 501.2L1186.2 500.34L1187.17 499.82L1188.5 499.65L1190 499.65" stroke-width="6.3"/>
<path d="M1190 499.65C1192.37 499.65 1194.3 502.78 1194.3 506.65L1194.3 634.5" stroke-width="6.3" stroke-linecap="butt"/>
<path d="M1196.3 634.5L1196.3 530.63L1196.9 524.94L1197.51 519.62L1198.13 514.66L1198.76 510.08L1199.4 505.86L1200.06 502L1200.73 498.51L1201.41 495.39L1202.12 492.64L1202.84 490.26L1203.6 488.24L1204.39 486.59L1205.22 485.3L1206.11 484.38L1207.11 483.83L1208.5 483.65L1210 483.65" stroke-width="6.3"/>
<path d="M1210 483.65C1211.95 483.65 1213.53 486.78 1213.53 490.65L1213.53 620.5" stroke-width="6.3" stroke-linecap="butt"/>
<path d="M1215.43 620.5L1215.43 524.28L1216.07 517.43L1216.72 511.01L1217.38 505.04L1218.05 499.51L1218.73 494.42L1219.43 489.77L1220.14 485.57L1220.87 481.81L1221.62 478.49L1222.4 475.61L1223.2 473.18L1224.05 471.19L1224.94 469.64L1225.9 468.53L1226.98 467.87L1228.5 467.65L1230 467.65" stroke-width="6.3"/>
<path d="M1230 467.65C1231.86 467.65 1233.37 470.78 1233.37 474.65L1233.37 610" stroke-width="6.3" stroke-linecap="butt"/>
<path d="M1235.17 610L1235.17 511.05L1235.81 503.74L1236.47 496.9L1237.13 490.53L1237.81 484.63L1238.5 479.2L1239.21 474.25L1239.93 469.76L1240.68 465.75L1241.44 462.21L1242.23 459.14L1243.05 456.55L1243.91 454.43L1244.82 452.77L1245.81 451.59L1246.92 450.89L1248.5 450.65L1250 450.65" stroke-width="6.3"/>
<path d="M1250 450.65C1251.44 450.65 1252.6 453.78 1252.6 457.65L1252.6 595" stroke-width="6.3" stroke-linecap="butt"/>
<path d="M1254.3 595L1254.3 494.22L1254.93 487L1255.58 480.26L1256.23 473.97L1256.9 468.16L1257.58 462.81L1258.27 457.92L1258.98 453.5L1259.72 449.54L1260.47 446.05L1261.25 443.03L1262.06 440.47L1262.91 438.37L1263.81 436.74L1264.79 435.58L1265.9 434.88L1267.5 434.65L1269 434.65" stroke-width="6.3"/>
<path d="M1269 434.65C1270.88 434.65 1272.4 437.78 1272.4 441.65L1272.4 583" stroke-width="6.3" stroke-linecap="butt"/>
<path d="M1274.1 583L1274.1 469.58L1274.69 463.4L1275.29 457.61L1275.9 452.22L1276.52 447.22L1277.15 442.63L1277.8 438.44L1278.47 434.65L1279.15 431.25L1279.86 428.26L1280.59 425.66L1281.35 423.47L1282.14 421.67L1282.99 420.27L1283.92 419.27L1284.97 418.67L1286.5 418.48L1288 418.48" stroke-width="5.95"/>
<path d="M1288 418.48C1289.88 418.48 1291.4 421.61 1291.4 425.48L1291.4 569.5" stroke-width="5.95" stroke-linecap="butt"/>
<path d="M1293.1 569.5L1293.1 453.47L1293.68 447.22L1294.28 441.36L1294.88 435.91L1295.5 430.87L1296.13 426.22L1296.77 421.98L1297.44 418.15L1298.11 414.72L1298.82 411.69L1299.54 409.07L1300.3 406.85L1301.1 405.03L1301.95 403.62L1302.88 402.61L1303.94 402L1305.5 401.8L1307 401.8" stroke-width="5.6"/>
<path d="M1307 401.8C1308.88 401.8 1310.4 404.93 1310.4 408.8L1310.4 556" stroke-width="5.6" stroke-linecap="butt"/>
<path d="M1312.1 556L1312.1 439.01L1312.69 432.33L1313.29 426.09L1313.9 420.27L1314.53 414.89L1315.17 409.93L1315.82 405.41L1316.49 401.32L1317.18 397.66L1317.89 394.43L1318.63 391.63L1319.41 389.26L1320.22 387.32L1321.09 385.81L1322.04 384.74L1323.13 384.09L1324.75 383.88L1326.25 383.88" stroke-width="5.25"/>
<path d="M1326.25 383.88C1328.32 383.88 1330 387.01 1330 390.88L1330 542.5" stroke-width="5.25" stroke-linecap="butt"/>
<path d="M1331.7 542.5L1331.7 413.34L1332.25 407.75L1332.8 402.53L1333.37 397.66L1333.95 393.15L1334.54 389.01L1335.14 385.22L1335.76 381.8L1336.41 378.74L1337.07 376.03L1337.76 373.69L1338.48 371.71L1339.23 370.08L1340.05 368.82L1340.94 367.92L1341.96 367.38L1343.5 367.2L1345 367.2" stroke-width="4.9"/>
<path d="M1345 367.2C1346.88 367.2 1348.4 370.33 1348.4 374.2L1348.4 527.5" stroke-width="4.9" stroke-linecap="butt"/>
<path d="M1350.1 527.5L1350.1 400.44L1350.66 394.33L1351.22 388.61L1351.8 383.28L1352.39 378.35L1353 373.81L1353.62 369.67L1354.25 365.93L1354.91 362.57L1355.59 359.61L1356.3 357.05L1357.04 354.88L1357.82 353.11L1358.65 351.73L1359.57 350.74L1360.63 350.15L1362.25 349.95L1363.75 349.95" stroke-width="4.9"/>
<path d="M1363.75 349.95C1365.77 349.95 1367.4 353.08 1367.4 356.95L1367.4 513.25" stroke-width="4.9" stroke-linecap="butt"/>
<path d="M1369.1 513.25L1369.1 381.61L1369.64 375.78L1370.19 370.32L1370.75 365.24L1371.33 360.54L1371.92 356.21L1372.52 352.26L1373.14 348.69L1373.78 345.49L1374.44 342.67L1375.13 340.22L1375.85 338.15L1376.62 336.46L1377.44 335.14L1378.34 334.2L1379.39 333.64L1381 333.45L1382.5 333.45" stroke-width="4.9"/>
<path d="M1382.5 333.45C1384.65 333.45 1386.4 336.58 1386.4 340.45L1386.4 497" stroke-width="4.9" stroke-linecap="butt"/>
<path d="M1388.1 497L1388.1 360.53L1388.62 354.98L1389.16 349.79L1389.71 344.96L1390.26 340.48L1390.84 336.36L1391.42 332.6L1392.03 329.2L1392.65 326.16L1393.3 323.47L1393.97 321.15L1394.67 319.18L1395.42 317.56L1396.23 316.31L1397.11 315.42L1398.14 314.88L1399.75 314.7L1401.25 314.7" stroke-width="4.9"/>
<path d="M1401.25 314.7C1402.99 314.7 1404.4 317.83 1404.4 321.7L1404.4 481" stroke-width="4.9" stroke-linecap="butt"/>
<path d="M1406.1 481L1406.1 346.78L1406.63 340.83L1407.17 335.26L1407.73 330.08L1408.29 325.28L1408.87 320.87L1409.47 316.84L1410.08 313.19L1410.72 309.93L1411.37 307.05L1412.06 304.56L1412.78 302.45L1413.54 300.72L1414.36 299.38L1415.27 298.42L1416.33 297.84L1418 297.65L1419.5 297.65" stroke-width="4.9"/>
<path d="M1419.5 297.65C1421.43 297.65 1423 300.78 1423 304.65L1423 465" stroke-width="4.9" stroke-linecap="butt"/>
<path d="M1424.7 465L1424.7 322.85L1425.2 317.54L1425.72 312.56L1426.25 307.93L1426.78 303.65L1427.34 299.7L1427.9 296.1L1428.49 292.84L1429.09 289.93L1429.72 287.35L1430.37 285.12L1431.06 283.24L1431.79 281.69L1432.58 280.49L1433.45 279.64L1434.47 279.12L1436.1 278.95L1437.6 278.95" stroke-width="4.9"/>
<path d="M1437.6 278.95C1439.7 278.95 1441.4 282.08 1441.4 285.95L1441.4 448.5" stroke-width="4.9" stroke-linecap="butt"/>
<path d="M1443.1 448.5L1443.1 299.88L1443.58 295.17L1444.07 290.76L1444.57 286.65L1445.08 282.85L1445.6 279.35L1446.14 276.16L1446.7 273.27L1447.27 270.68L1447.87 268.4L1448.49 266.43L1449.15 264.75L1449.84 263.38L1450.6 262.32L1451.43 261.56L1452.42 261.1L1454 260.95L1455.5 260.95" stroke-width="4.9"/>
<path d="M1455.5 260.95C1457.65 260.95 1459.4 264.08 1459.4 267.95L1459.4 432" stroke-width="4.9" stroke-linecap="butt"/>
<path d="M1461.39 432L1461.39 269.29L1461.8 266.09L1462.22 263.09L1462.66 260.3L1463.1 257.72L1463.55 255.35L1464.02 253.18L1464.5 251.21L1465 249.46L1465.52 247.91L1466.06 246.57L1466.64 245.43L1467.24 244.5L1467.9 243.78L1468.63 243.26L1469.49 242.95L1470.9 242.85L1472.4 242.85" stroke-width="4.9"/>
<path d="M1472.4 242.85C1474.72 242.85 1476.6 245.98 1476.6 249.85L1476.6 416" stroke-width="4.9" stroke-linecap="butt"/>
<path d="M1478.88 416L1478.88 250.89L1479.28 247.76L1479.7 244.84L1480.12 242.11L1480.56 239.59L1481.01 237.27L1481.47 235.15L1481.94 233.23L1482.43 231.51L1482.94 230L1483.48 228.68L1484.05 227.57L1484.65 226.67L1485.3 225.96L1486.03 225.45L1486.88 225.15L1488.3 225.05L1489.8 225.05" stroke-width="4.9"/>
<path d="M1489.8 225.05C1492.4 225.05 1494.5 228.18 1494.5 232.05L1494.5 399.75" stroke-width="4.9" stroke-linecap="butt"/>
<path d="M1497.06 399.75L1497.06 229.14L1497.45 226.45L1497.84 223.94L1498.24 221.6L1498.65 219.43L1499.07 217.44L1499.5 215.62L1499.95 213.97L1500.41 212.5L1500.9 211.2L1501.4 210.07L1501.94 209.12L1502.51 208.34L1503.13 207.73L1503.82 207.3L1504.64 207.04L1506 206.95L1507.5 206.95" stroke-width="4.9"/>
<path d="M1507.5 206.95C1510.1 206.95 1512.2 210.08 1512.2 213.95L1512.2 383.25" stroke-width="4.9" stroke-linecap="butt"/>
<path d="M1515.05 383.25L1515.05 204.45L1515.39 202.55L1515.73 200.77L1516.09 199.12L1516.45 197.58L1516.82 196.17L1517.2 194.88L1517.6 193.72L1518.01 192.68L1518.44 191.76L1518.89 190.96L1519.36 190.28L1519.87 189.73L1520.42 189.3L1521.04 189L1521.77 188.81L1523 188.75L1524.5 188.75" stroke-width="4.9"/>
<path d="M1524.5 188.75C1527.21 188.75 1529.4 191.88 1529.4 195.75L1529.4 366" stroke-width="4.9" stroke-linecap="butt"/>
<path d="M1532.54 366L1532.54 186.73L1532.87 184.82L1533.22 183.03L1533.57 181.36L1533.93 179.82L1534.3 178.41L1534.68 177.11L1535.07 175.94L1535.48 174.89L1535.91 173.97L1536.36 173.17L1536.83 172.49L1537.34 171.94L1537.89 171.5L1538.51 171.2L1539.25 171.01L1540.5 170.95L1542 170.95" stroke-width="4.9"/>
<path d="M1542 170.95C1544.32 170.95 1546.2 174.08 1546.2 177.95L1546.2 349.5" stroke-width="4.9" stroke-linecap="butt"/>
<path d="M1549.62 349.5L1549.62 169.52L1549.97 167.46L1550.32 165.52L1550.68 163.72L1551.05 162.05L1551.43 160.52L1551.82 159.12L1552.23 157.85L1552.65 156.72L1553.09 155.72L1553.55 154.85L1554.04 154.12L1554.56 153.52L1555.12 153.05L1555.76 152.72L1556.51 152.52L1557.8 152.45L1559.3 152.45" stroke-width="4.9"/>
<path d="M1559.3 152.45C1560.96 152.45 1562.3 155.58 1562.3 159.45L1562.3 332.25" stroke-width="4.9" stroke-linecap="butt"/>
<path d="M1566.01 332.25L1566.01 145.55L1566.32 144.15L1566.62 142.83L1566.94 141.61L1567.27 140.48L1567.6 139.43L1567.95 138.48L1568.3 137.62L1568.67 136.85L1569.06 136.17L1569.46 135.58L1569.89 135.08L1570.35 134.68L1570.85 134.36L1571.4 134.13L1572.07 134L1573.2 133.95L1574.7 133.95" stroke-width="4.9"/>
<path d="M1574.7 133.95C1577.19 133.95 1579.2 137.08 1579.2 140.95L1579.2 315" stroke-width="4.9" stroke-linecap="butt"/>
<path d="M1583.2 315L1583.2 122.9L1583.46 122L1583.73 121.15L1584 120.37L1584.28 119.64L1584.57 118.97L1584.87 118.36L1585.18 117.81L1585.49 117.31L1585.83 116.88L1586.18 116.5L1586.54 116.18L1586.94 115.92L1587.37 115.71L1587.85 115.57L1588.42 115.48L1589.4 115.45L1590.9 115.45" stroke-width="4.9"/>
<path d="M1590.9 115.45C1593.39 115.45 1595.4 118.58 1595.4 122.45L1595.4 300.5" stroke-width="4.9" stroke-linecap="butt"/>
<path d="M1599.4 300.5L1599.4 104.04L1599.66 103.18L1599.92 102.38L1600.19 101.63L1600.46 100.94L1600.75 100.3L1601.04 99.72L1601.34 99.19L1601.66 98.72L1601.98 98.31L1602.33 97.95L1602.69 97.64L1603.08 97.39L1603.5 97.2L1603.98 97.06L1604.54 96.98L1605.5 96.95L1607 96.95" stroke-width="4.9"/>
<path d="M1607 96.95C1609.49 96.95 1611.5 100.08 1611.5 103.95L1611.5 278" stroke-width="4.9" stroke-linecap="butt"/>
<path d="M1615.5 278L1615.5 84.87L1615.75 84.09L1616 83.36L1616.26 82.69L1616.53 82.06L1616.8 81.48L1617.09 80.96L1617.38 80.48L1617.68 80.05L1618 79.68L1618.33 79.35L1618.68 79.08L1619.06 78.85L1619.47 78.68L1619.93 78.55L1620.47 78.48L1621.4 78.45L1622.9 78.45" stroke-width="4.9"/>
<path d="M1622.9 78.45C1625.39 78.45 1627.4 81.58 1627.4 85.45L1627.4 258.5" stroke-width="4.9" stroke-linecap="butt"/>
<path d="M1631.4 258.5L1631.4 63.63L1631.61 63.18L1631.82 62.76L1632.03 62.38L1632.26 62.02L1632.48 61.69L1632.72 61.39L1632.96 61.11L1633.21 60.87L1633.48 60.65L1633.75 60.47L1634.04 60.31L1634.36 60.18L1634.69 60.08L1635.08 60.01L1635.53 59.96L1636.3 59.95L1637.8 59.95" stroke-width="4.9"/>
<path d="M1637.8 59.95C1640.29 59.95 1642.3 63.08 1642.3 66.95L1642.3 237.5" stroke-width="4.9" stroke-linecap="butt"/>
<path d="M1646.3 237.5L1646.3 45.36L1646.51 44.88L1646.73 44.44L1646.95 44.03L1647.17 43.65L1647.41 43.3L1647.64 42.98L1647.89 42.69L1648.15 42.43L1648.42 42.2L1648.7 42L1649 41.83L1649.32 41.69L1649.66 41.59L1650.05 41.51L1650.51 41.47L1651.3 41.45L1652.8 41.45" stroke-width="4.9"/>
<path d="M1652.8 41.45C1655.29 41.45 1657.3 44.58 1657.3 48.45L1657.3 218" stroke-width="4.9" stroke-linecap="butt"/>
<path d="M1661.3 218L1661.3 26.86L1661.51 26.38L1661.73 25.94L1661.95 25.53L1662.17 25.15L1662.41 24.8L1662.64 24.48L1662.89 24.19L1663.15 23.93L1663.42 23.7L1663.7 23.5L1664 23.33L1664.32 23.19L1664.66 23.09L1665.05 23.01L1665.51 22.97L1666.3 22.95L1667.8 22.95" stroke-width="4.9"/>
<path d="M1667.8 22.95C1670.29 22.95 1672.3 26.08 1672.3 29.95L1672.3 191" stroke-width="4.9" stroke-linecap="butt"/>
<path d="M1676.3 191L1676.3 8.36L1676.51 7.88L1676.73 7.44L1676.95 7.03L1677.17 6.65L1677.41 6.3L1677.64 5.98L1677.89 5.69L1678.15 5.43L1678.42 5.2L1678.7 5L1679 4.83L1679.32 4.69L1679.66 4.59L1680.05 4.51L1680.51 4.47L1681.3 4.45L1682.8 4.45" stroke-width="4.9"/>
<path d="M1682.8 4.45C1685.29 4.45 1687.3 7.58 1687.3 11.45L1687.3 168.5" stroke-width="4.9" stroke-linecap="butt"/>
<path d="M1691.3 168.5L1691.3 -11.73L1691.48 -12.02L1691.66 -12.28L1691.84 -12.52L1692.03 -12.75L1692.23 -12.96L1692.43 -13.15L1692.64 -13.32L1692.85 -13.47L1693.08 -13.61L1693.32 -13.72L1693.57 -13.82L1693.83 -13.91L1694.12 -13.97L1694.45 -14.01L1694.84 -14.04L1695.5 -14.05L1697 -14.05" stroke-width="4.9"/>
<path d="M1697 -14.05C1699.49 -14.05 1701.5 -10.92 1701.5 -7.05L1701.5 140" stroke-width="4.9" stroke-linecap="butt"/>
<path d="M1705.5 140L1705.5 -29.31L1705.7 -29.7L1705.9 -30.07L1706.11 -30.41L1706.32 -30.72L1706.54 -31.02L1706.76 -31.28L1707 -31.52L1707.24 -31.74L1707.49 -31.93L1707.76 -32.09L1708.04 -32.23L1708.33 -32.35L1708.66 -32.44L1709.03 -32.5L1709.46 -32.54L1710.2 -32.55L1711.7 -32.55" stroke-width="4.9"/>
<path d="M1711.7 -32.55C1714.19 -32.55 1716.2 -29.42 1716.2 -25.55L1716.2 110" stroke-width="4.9" stroke-linecap="butt"/>
<path d="M1720.2 110L1720.2 100" stroke-width="5.3"/>
<g fill="#000" stroke="none"><circle cx="320.5" cy="1026.5" r="2.4"/><circle cx="322.3" cy="1056.6" r="3"/><circle cx="339.5" cy="1007.2" r="2.4"/><circle cx="341.3" cy="1051.6" r="3"/><circle cx="358.5" cy="988.6" r="2.4"/><circle cx="360.3" cy="1047.2" r="3"/><circle cx="379.1" cy="961.4" r="2.4"/><circle cx="380.9" cy="1042" r="3"/><circle cx="399.9" cy="935.7" r="2.4"/><circle cx="401.7" cy="1036.6" r="3"/><circle cx="420.9" cy="909.9" r="2.4"/><circle cx="422.7" cy="1031.6" r="3"/><circle cx="441.9" cy="887.2" r="2.4"/><circle cx="443.7" cy="1026.6" r="3"/><circle cx="463.5" cy="863.9" r="2.4"/><circle cx="465.3" cy="1021.6" r="3"/><circle cx="484.9" cy="842.6" r="2.4"/><circle cx="486.7" cy="1017.6" r="3"/><circle cx="506.9" cy="821.9" r="2.4"/><circle cx="508.7" cy="1013.2" r="2.94"/><circle cx="528.5" cy="805.4" r="2.4"/><circle cx="530.3" cy="1008.6" r="2.88"/><circle cx="549.9" cy="790" r="2.4"/><circle cx="551.7" cy="1004.6" r="2.83"/><circle cx="571.5" cy="775.9" r="2.4"/><circle cx="573.3" cy="1000" r="2.77"/><circle cx="593.5" cy="760.4" r="2.4"/><circle cx="595.3" cy="996.6" r="2.65"/><circle cx="614.5" cy="748" r="2.4"/><circle cx="616.3" cy="992" r="2.55"/><circle cx="636.5" cy="734.9" r="2.4"/><circle cx="638.3" cy="987.6" r="2.47"/><circle cx="657.9" cy="723.7" r="2.4"/><circle cx="659.7" cy="984.6" r="2.4"/><circle cx="679.7" cy="712.2" r="2.4"/><circle cx="681.5" cy="980.6" r="2.35"/><circle cx="700.9" cy="700.4" r="2.4"/><circle cx="702.7" cy="976.6" r="2.32"/><circle cx="722.9" cy="689.2" r="2.4"/><circle cx="724.7" cy="973" r="2.3"/><circle cx="743.9" cy="680.95" r="2.4"/><circle cx="745.7" cy="968.6" r="2.3"/><circle cx="764.9" cy="672.4" r="2.4"/><circle cx="766.7" cy="964.6" r="2.3"/><circle cx="786.5" cy="664.9" r="2.4"/><circle cx="788.3" cy="960" r="2.3"/><circle cx="807.5" cy="658.2" r="2.4"/><circle cx="809.3" cy="955.6" r="2.3"/><circle cx="828.5" cy="652.9" r="2.4"/><circle cx="830.3" cy="951" r="2.3"/><circle cx="849.1" cy="647.2" r="2.4"/><circle cx="850.9" cy="946.6" r="2.3"/><circle cx="869.9" cy="641.2" r="2.4"/><circle cx="871.7" cy="942" r="2.3"/><circle cx="891.1" cy="635.4" r="2.4"/><circle cx="892.89" cy="937.6" r="2.3"/><circle cx="911.9" cy="628.2" r="2.4"/><circle cx="913.69" cy="933" r="2.3"/><circle cx="931.9" cy="622.2" r="2.4"/><circle cx="933.68" cy="928" r="2.3"/><circle cx="952.9" cy="613.9" r="2.4"/><circle cx="954.67" cy="923" r="2.3"/><circle cx="972.98" cy="606.7" r="2.4"/><circle cx="974.65" cy="917.6" r="2.3"/><circle cx="994.06" cy="597.9" r="2.4"/><circle cx="995.63" cy="912" r="2.3"/><circle cx="1014.14" cy="591" r="2.4"/><circle cx="1015.61" cy="905.6" r="2.3"/><circle cx="1034.22" cy="583.2" r="2.4"/><circle cx="1035.59" cy="900" r="2.3"/><circle cx="1054.4" cy="575.2" r="2.4"/><circle cx="1055.67" cy="893.6" r="2.3"/><circle cx="1074.98" cy="562.7" r="2.4"/><circle cx="1076.14" cy="886" r="2.3"/><circle cx="1095.46" cy="553.7" r="2.4"/><circle cx="1096.51" cy="879" r="2.3"/><circle cx="1115.14" cy="542.7" r="2.4"/><circle cx="1116.07" cy="872" r="2.3"/><circle cx="1134.82" cy="531.2" r="2.4"/><circle cx="1135.64" cy="865" r="2.3"/><circle cx="1154.7" cy="522.95" r="2.4"/><circle cx="1155.4" cy="857" r="2.3"/><circle cx="1174.98" cy="509.9" r="2.4"/><circle cx="1175.6" cy="849.2" r="2.3"/><circle cx="1194.86" cy="499.2" r="2.4"/><circle cx="1195.4" cy="840" r="2.3"/><circle cx="1214.14" cy="483.2" r="2.4"/><circle cx="1214.6" cy="831" r="2.3"/><circle cx="1234.02" cy="467.2" r="2.4"/><circle cx="1234.4" cy="822" r="2.3"/><circle cx="1253.3" cy="450.2" r="2.4"/><circle cx="1253.6" cy="812" r="2.3"/><circle cx="1273.1" cy="431.2" r="2.4"/><circle cx="1273.4" cy="802" r="2.3"/><circle cx="1292.1" cy="413.7" r="2.4"/><circle cx="1292.4" cy="791.2" r="2.3"/><circle cx="1311.1" cy="386.45" r="2.4"/><circle cx="1311.4" cy="781.2" r="2.3"/><circle cx="1330.7" cy="366.95" r="2.4"/><circle cx="1331" cy="770.3" r="2.3"/><circle cx="1349.1" cy="342.2" r="2.4"/><circle cx="1349.4" cy="758.6" r="2.3"/><circle cx="1368.1" cy="315.95" r="2.4"/><circle cx="1368.4" cy="746.6" r="2.3"/><circle cx="1387.1" cy="290.45" r="2.4"/><circle cx="1387.4" cy="734" r="2.3"/><circle cx="1405.1" cy="255.6" r="2.4"/><circle cx="1405.4" cy="721.2" r="2.3"/><circle cx="1423.7" cy="222.3" r="2.4"/><circle cx="1424" cy="707.6" r="2.3"/><circle cx="1442.1" cy="189.1" r="2.4"/><circle cx="1442.4" cy="694" r="2.3"/><circle cx="1460.1" cy="149.7" r="2.4"/><circle cx="1460.4" cy="680.2" r="2.3"/><circle cx="1477.6" cy="664.6" r="2.3"/><circle cx="1495.5" cy="650.9" r="2.3"/><circle cx="1513.2" cy="635.6" r="2.3"/><circle cx="1530.4" cy="619.8" r="2.3"/><circle cx="1547.2" cy="603.8" r="2.29"/><circle cx="1563.3" cy="587.6" r="2.28"/><circle cx="1580.2" cy="569.6" r="2.27"/><circle cx="1596.4" cy="551.9" r="2.26"/><circle cx="1612.5" cy="533.6" r="2.25"/><circle cx="1628.4" cy="513.8" r="2.24"/><circle cx="1643.3" cy="494.3" r="2.23"/><circle cx="1658.3" cy="475.1" r="2.22"/><circle cx="1673.3" cy="452.9" r="2.21"/><circle cx="1688.3" cy="427.1" r="2.2"/><circle cx="1702.5" cy="398.9" r="1.7"/><circle cx="1717.2" cy="369.3" r="1.7"/></g>
</g>
<g class="gs" font-family="Liberation Sans, sans-serif" font-size="17.7" fill="#000">
<text transform="translate(432.9 912.3) rotate(-80)" textLength="33.38" lengthAdjust="spacingAndGlyphs">n=1</text>
<text transform="translate(453.9 889.6) rotate(-80)" textLength="33.38" lengthAdjust="spacingAndGlyphs">n=2</text>
<text transform="translate(475.5 866.3) rotate(-80)" textLength="33.38" lengthAdjust="spacingAndGlyphs">n=3</text>
<text transform="translate(496.9 845) rotate(-80)" textLength="33.38" lengthAdjust="spacingAndGlyphs">n=4</text>
<text transform="translate(518.9 824.3) rotate(-80)" textLength="33.38" lengthAdjust="spacingAndGlyphs">n=5</text>
<text transform="translate(540.5 807.8) rotate(-80)" textLength="33.38" lengthAdjust="spacingAndGlyphs">n=6</text>
<text transform="translate(561.9 792.4) rotate(-80)" textLength="33.38" lengthAdjust="spacingAndGlyphs">n=7</text>
<text transform="translate(605.5 762.8) rotate(-80)" textLength="33.38" lengthAdjust="spacingAndGlyphs">n=8</text>
<text transform="translate(626.5 750.4) rotate(-80)" textLength="33.38" lengthAdjust="spacingAndGlyphs">n=9</text>
<text transform="translate(669.9 726.1) rotate(-80)" textLength="43.46" lengthAdjust="spacingAndGlyphs">n=10</text>
<text transform="translate(691.7 714.6) rotate(-80)" textLength="43.46" lengthAdjust="spacingAndGlyphs">n=11</text>
<text transform="translate(712.9 702.8) rotate(-80)" textLength="43.46" lengthAdjust="spacingAndGlyphs">n=12</text>
<text transform="translate(734.9 691.6) rotate(-80)" textLength="43.46" lengthAdjust="spacingAndGlyphs">n=13</text>
<text transform="translate(755.9 683.35) rotate(-80)" textLength="43.46" lengthAdjust="spacingAndGlyphs">n=14</text>
<text transform="translate(776.9 674.8) rotate(-80)" textLength="43.46" lengthAdjust="spacingAndGlyphs">n=15</text>
<text transform="translate(798.5 667.3) rotate(-80)" textLength="43.46" lengthAdjust="spacingAndGlyphs">n=16</text>
<text transform="translate(819.5 660.6) rotate(-80)" textLength="43.46" lengthAdjust="spacingAndGlyphs">n=17</text>
<text transform="translate(840.5 655.3) rotate(-80)" textLength="43.46" lengthAdjust="spacingAndGlyphs">n=18</text>
<text transform="translate(861.1 649.6) rotate(-80)" textLength="43.46" lengthAdjust="spacingAndGlyphs">n=19</text>
<text transform="translate(881.9 643.6) rotate(-80)" textLength="43.46" lengthAdjust="spacingAndGlyphs">n=20</text>
<text transform="translate(903.1 637.8) rotate(-80)" textLength="43.46" lengthAdjust="spacingAndGlyphs">n=21</text>
<text transform="translate(923.9 630.6) rotate(-80)" textLength="43.46" lengthAdjust="spacingAndGlyphs">n=22</text>
<text transform="translate(943.9 624.6) rotate(-80)" textLength="43.46" lengthAdjust="spacingAndGlyphs">n=23</text>
<text transform="translate(964.9 616.3) rotate(-80)" textLength="43.46" lengthAdjust="spacingAndGlyphs">n=24</text>
<text transform="translate(984.9 609.1) rotate(-80)" textLength="43.46" lengthAdjust="spacingAndGlyphs">n=25</text>
<text transform="translate(1005.9 600.3) rotate(-80)" textLength="43.46" lengthAdjust="spacingAndGlyphs">n=26</text>
<text transform="translate(1025.9 593.4) rotate(-80)" textLength="43.46" lengthAdjust="spacingAndGlyphs">n=27</text>
<text transform="translate(1045.9 585.6) rotate(-80)" textLength="43.46" lengthAdjust="spacingAndGlyphs">n=28</text>
<text transform="translate(1066 577.6) rotate(-80)" textLength="43.46" lengthAdjust="spacingAndGlyphs">n=29</text>
<text transform="translate(1086.5 565.1) rotate(-80)" textLength="43.46" lengthAdjust="spacingAndGlyphs">n=30</text>
<text transform="translate(1106.9 556.1) rotate(-80)" textLength="43.46" lengthAdjust="spacingAndGlyphs">n=31</text>
<text transform="translate(1126.5 545.1) rotate(-80)" textLength="43.46" lengthAdjust="spacingAndGlyphs">n=32</text>
<text transform="translate(1146.1 533.6) rotate(-80)" textLength="43.46" lengthAdjust="spacingAndGlyphs">n=33</text>
<text transform="translate(1165.9 525.35) rotate(-80)" textLength="43.46" lengthAdjust="spacingAndGlyphs">n=34</text>
<text transform="translate(1186.1 512.3) rotate(-80)" textLength="43.46" lengthAdjust="spacingAndGlyphs">n=35</text>
<text transform="translate(1205.9 501.6) rotate(-80)" textLength="43.46" lengthAdjust="spacingAndGlyphs">n=36</text>
<text transform="translate(1225.1 485.6) rotate(-80)" textLength="43.46" lengthAdjust="spacingAndGlyphs">n=37</text>
<text transform="translate(1244.9 469.6) rotate(-80)" textLength="43.46" lengthAdjust="spacingAndGlyphs">n=38</text>
<text transform="translate(1264.1 452.6) rotate(-80)" textLength="43.46" lengthAdjust="spacingAndGlyphs">n=39</text>
<text transform="translate(1283.9 433.6) rotate(-80)" textLength="43.46" lengthAdjust="spacingAndGlyphs">n=40</text>
<text transform="translate(1302.9 416.1) rotate(-80)" textLength="43.46" lengthAdjust="spacingAndGlyphs">n=41</text>
<text transform="translate(1321.9 388.85) rotate(-80)" textLength="43.46" lengthAdjust="spacingAndGlyphs">n=42</text>
<text transform="translate(1341.5 369.35) rotate(-80)" textLength="43.46" lengthAdjust="spacingAndGlyphs">n=43</text>
<text transform="translate(1359.9 344.6) rotate(-80)" textLength="43.46" lengthAdjust="spacingAndGlyphs">n=44</text>
<text transform="translate(1378.9 318.35) rotate(-80)" textLength="43.46" lengthAdjust="spacingAndGlyphs">n=45</text>
<text transform="translate(1397.9 292.85) rotate(-80)" textLength="43.46" lengthAdjust="spacingAndGlyphs">n=46</text>
<text transform="translate(1415.9 258) rotate(-80)" textLength="43.46" lengthAdjust="spacingAndGlyphs">n=47</text>
<text transform="translate(1434.5 224.7) rotate(-80)" textLength="43.46" lengthAdjust="spacingAndGlyphs">n=48</text>
<text transform="translate(1452.9 191.5) rotate(-80)" textLength="43.46" lengthAdjust="spacingAndGlyphs">n=49</text>
<text transform="translate(1470.9 152.1) rotate(-80)" textLength="43.46" lengthAdjust="spacingAndGlyphs">n=50</text>
</g>
<rect x="250.5" y="144.5" width="1549.5" height="924.0" fill="none" stroke="#000" stroke-width="1.2"/>
<g stroke="#000" fill="none">
<path d="M239 1060.65H250.5" stroke-width="5.8"/>
<path d="M239 1038.83H250.5" stroke-width="5.8"/>
<path d="M233 1017H250.5" stroke-width="5.8"/>
<path d="M239 995.18H250.5" stroke-width="5.8"/>
<path d="M239 973.35H250.5" stroke-width="5.8"/>
<path d="M239 951.53H250.5" stroke-width="5.8"/>
<path d="M239 929.7H250.5" stroke-width="5.8"/>
<path d="M233 907.88H250.5" stroke-width="5.8"/>
<path d="M239 886.05H250.5" stroke-width="5.8"/>
<path d="M239 864.23H250.5" stroke-width="5.8"/>
<path d="M239 842.4H250.5" stroke-width="5.8"/>
<path d="M239 820.58H250.5" stroke-width="5.8"/>
<path d="M233 798.75H250.5" stroke-width="5.8"/>
<path d="M239 776.93H250.5" stroke-width="5.8"/>
<path d="M239 755.1H250.5" stroke-width="5.8"/>
<path d="M239 733.27H250.5" stroke-width="5.8"/>
<path d="M239 711.45H250.5" stroke-width="5.8"/>
<path d="M233 689.62H250.5" stroke-width="5.8"/>
<path d="M239 667.8H250.5" stroke-width="5.8"/>
<path d="M239 645.98H250.5" stroke-width="5.8"/>
<path d="M239 624.15H250.5" stroke-width="5.8"/>
<path d="M239 602.33H250.5" stroke-width="5.8"/>
<path d="M233 580.5H250.5" stroke-width="5.8"/>
<path d="M239 558.67H250.5" stroke-width="5.8"/>
<path d="M239 536.85H250.5" stroke-width="5.8"/>
<path d="M239 515.03H250.5" stroke-width="5.8"/>
<path d="M239 493.2H250.5" stroke-width="5.8"/>
<path d="M233 471.38H250.5" stroke-width="5.8"/>
<path d="M239 449.55H250.5" stroke-width="5.8"/>
<path d="M239 427.73H250.5" stroke-width="5.8"/>
<path d="M239 405.9H250.5" stroke-width="5.8"/>
<path d="M239 384.08H250.5" stroke-width="5.8"/>
<path d="M233 362.25H250.5" stroke-width="5.8"/>
<path d="M239 340.43H250.5" stroke-width="5.8"/>
<path d="M239 318.6H250.5" stroke-width="5.8"/>
<path d="M239 296.77H250.5" stroke-width="5.8"/>
<path d="M239 274.95H250.5" stroke-width="5.8"/>
<path d="M233 253.12H250.5" stroke-width="5.8"/>
<path d="M239 231.3H250.5" stroke-width="5.8"/>
<path d="M239 209.48H250.5" stroke-width="5.8"/>
<path d="M239 187.65H250.5" stroke-width="5.8"/>
<path d="M239 165.82H250.5" stroke-width="5.8"/>
<path d="M233 144H250.5" stroke-width="5.8"/>
<path d="M282.2 1068.5V1085" stroke-width="5.8"/>
<path d="M342.3 1068.5V1079" stroke-width="5.8"/>
<path d="M402.39 1068.5V1079" stroke-width="5.8"/>
<path d="M462.49 1068.5V1079" stroke-width="5.8"/>
<path d="M522.58 1068.5V1079" stroke-width="5.8"/>
<path d="M582.68 1068.5V1085" stroke-width="5.8"/>
<path d="M642.78 1068.5V1079" stroke-width="5.8"/>
<path d="M702.87 1068.5V1079" stroke-width="5.8"/>
<path d="M762.97 1068.5V1079" stroke-width="5.8"/>
<path d="M823.06 1068.5V1079" stroke-width="5.8"/>
<path d="M883.16 1068.5V1085" stroke-width="5.8"/>
<path d="M943.26 1068.5V1079" stroke-width="5.8"/>
<path d="M1003.35 1068.5V1079" stroke-width="5.8"/>
<path d="M1063.45 1068.5V1079" stroke-width="5.8"/>
<path d="M1123.54 1068.5V1079" stroke-width="5.8"/>
<path d="M1183.64 1068.5V1085" stroke-width="5.8"/>
<path d="M1243.74 1068.5V1079" stroke-width="5.8"/>
<path d="M1303.83 1068.5V1079" stroke-width="5.8"/>
<path d="M1363.93 1068.5V1079" stroke-width="5.8"/>
<path d="M1424.02 1068.5V1079" stroke-width="5.8"/>
<path d="M1484.12 1068.5V1085" stroke-width="5.8"/>
<path d="M1544.22 1068.5V1079" stroke-width="5.8"/>
<path d="M1604.31 1068.5V1079" stroke-width="5.8"/>
<path d="M1664.41 1068.5V1079" stroke-width="5.8"/>
<path d="M1724.5 1068.5V1079" stroke-width="5.8"/>
<path d="M1784.6 1068.5V1085" stroke-width="5.8"/>
</g>
<g class="gs" font-family="Liberation Sans, sans-serif" font-size="38.3" fill="#000">
<text x="227.3" y="1031.6" text-anchor="end" textLength="66.51" lengthAdjust="spacingAndGlyphs">200</text>
<text x="227.3" y="922.48" text-anchor="end" textLength="66.51" lengthAdjust="spacingAndGlyphs">300</text>
<text x="227.3" y="813.35" text-anchor="end" textLength="66.51" lengthAdjust="spacingAndGlyphs">400</text>
<text x="227.3" y="704.23" text-anchor="end" textLength="66.51" lengthAdjust="spacingAndGlyphs">500</text>
<text x="227.3" y="595.1" text-anchor="end" textLength="66.51" lengthAdjust="spacingAndGlyphs">600</text>
<text x="227.3" y="485.98" text-anchor="end" textLength="66.51" lengthAdjust="spacingAndGlyphs">700</text>
<text x="227.3" y="376.85" text-anchor="end" textLength="66.51" lengthAdjust="spacingAndGlyphs">800</text>
<text x="227.3" y="267.73" text-anchor="end" textLength="66.51" lengthAdjust="spacingAndGlyphs">900</text>
<text x="227.3" y="158.6" text-anchor="end" textLength="91.9" lengthAdjust="spacingAndGlyphs">1000</text>
<text x="231.29" y="1117.5" textLength="101.83" lengthAdjust="spacingAndGlyphs">90.10</text>
<text x="531.77" y="1117.5" textLength="101.83" lengthAdjust="spacingAndGlyphs">90.15</text>
<text x="832.25" y="1117.5" textLength="101.83" lengthAdjust="spacingAndGlyphs">90.20</text>
<text x="1132.73" y="1117.5" textLength="101.83" lengthAdjust="spacingAndGlyphs">90.25</text>
<text x="1433.21" y="1117.5" textLength="101.83" lengthAdjust="spacingAndGlyphs">90.30</text>
<text x="1733.69" y="1117.5" textLength="101.83" lengthAdjust="spacingAndGlyphs">90.35</text>
</g>
<g class="gs" font-family="Liberation Sans, sans-serif" font-size="59" fill="#000">
<text x="889.8" y="1171.8" textLength="269.6" lengthAdjust="spacingAndGlyphs">Age (Myr)</text>
<text transform="translate(118.3 839.37) rotate(-90)" textLength="467.04" lengthAdjust="spacingAndGlyphs">FM period (days)</text>
</g>
<rect x="264" y="157.6" width="380" height="108.4" rx="5" ry="5" fill="#fff" fill-opacity="0.8" stroke="#d5d5d5" stroke-width="1.4"/>
<path d="M272.1 177H323.9" stroke="#000" stroke-width="2.1"/>
<circle cx="298.4" cy="177.3" r="2.0" fill="#000"/>
<circle cx="298.5" cy="231.5" r="7.3" fill="#fdfdc3" stroke="#fdfdae" stroke-width="1.2"/>
<g class="gs" font-family="Liberation Sans, sans-serif" font-size="26.5" fill="#000">
<text x="342" y="186" textLength="291.98" lengthAdjust="spacingAndGlyphs">m5.00_z0.0025_y0.254</text>
<text x="342" y="223" textLength="278.54" lengthAdjust="spacingAndGlyphs">intersection w/ P,L,T,R</text>
<text x="342" y="250" textLength="189.72" lengthAdjust="spacingAndGlyphs">loosely defined</text>
</g>
</svg>
</body></html>
